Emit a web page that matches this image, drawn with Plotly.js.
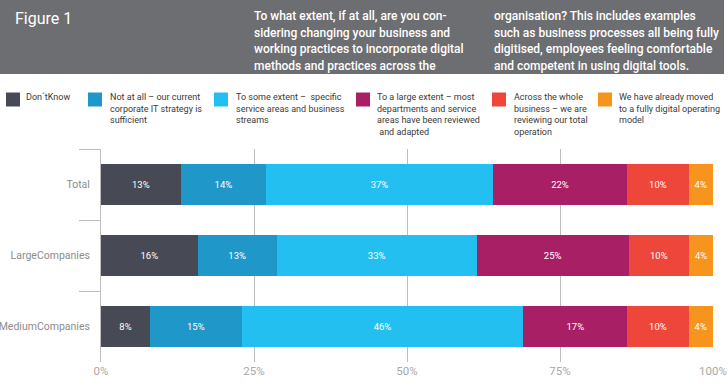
<!DOCTYPE html>
<html>
<head>
<meta charset="utf-8">
<script src="https://cdn.plot.ly/plotly-3.0.1.min.js"></script>
<style>html,body{margin:0;padding:0;background:#fff;}#chart{width:728px;height:387px;}</style>
</head>
<body>
<div id="chart"></div>
<script>
// ---- data ----
const categories = ["Total", "LargeCompanies", "MediumCompanies"];
const seriesNames = [
  "Don\u00b4tKnow",
  "Not at all \u2013 our current<br>corporate IT strategy is<br>sufficient",
  "To some extent \u2013  specific<br>service areas and business<br>streams",
  "To a large extent \u2013 most<br>departments and service<br>areas have been reviewed<br> and adapted",
  "Across the whole<br>business \u2013 we are<br>reviewing our total<br>operation",
  "We have already moved<br>to a fully digital operating<br>model"
];
const dontKnow      = [13, 15.8, 8];
const notAtAll      = [14, 12.9, 15];
const someExtent    = [37, 32.7, 46];
const largeExtent   = [22, 24.8, 17];
const wholeBusiness = [10, 9.9, 10];
const fullyDigital  = [4, 3.9, 4];
const xTickVals = [0, 25, 50, 75, 100];
const xTickText = ["0%", "25%", "50%", "75%", "100%"];
const figureLabel = "Figure 1";
const questionCol1 = [
  "To what extent, if at all, are you con-",
  "sidering changing your business and",
  "working practices to incorporate digital",
  "methods and practices across the"
];
const questionCol2 = [
  "organisation? This includes examples",
  "such as business processes all being fully",
  "digitised, employees feeling comfortable",
  "and competent in using digital tools."
];

// ---- styles ----
const colors = ["#474a55", "#2097c9", "#22bff0", "#a81f66", "#ee463b", "#f7941d"];
const FONT = "Roboto, 'Open Sans', sans-serif";
const values = [dontKnow, notAtAll, someExtent, largeExtent, wholeBusiness, fullyDigital];

const L = 101, R = 713, T = 149, B = 362;
const X = px => (px - L) / (R - L);
const Y = py => (B - py) / (B - T);

const traces = values.map((v, i) => ({
  type: "bar",
  orientation: "h",
  name: seriesNames[i],
  y: categories,
  x: v,
  width: 0.58,
  marker: {color: colors[i], line: {width: 0}},
  texttemplate: "%{x:.0f}%",
  textposition: "inside",
  insidetextanchor: "middle",
  textangle: 0,
  constraintext: "none",
  textfont: {family: FONT, size: 9.5, color: "#ffffff"},
  hoverinfo: "skip",
  showlegend: false
}));

const legendX = [6, 88, 214, 356, 492, 598];
const legendTextX = [24, 108, 234, 375, 512, 617];

const shapes = [
  {type: "rect", xref: "paper", yref: "paper", x0: X(0), x1: X(724), y0: Y(0), y1: Y(74),
   fillcolor: "#6d6e71", line: {width: 0}, layer: "below"}
];
const annotations = [
  {xref: "paper", yref: "paper", x: X(13), y: Y(18), xanchor: "left", yanchor: "middle",
   text: figureLabel, showarrow: false, font: {family: FONT, size: 16, color: "#ffffff"}}
];
questionCol1.forEach((t, j) => annotations.push({xref: "paper", yref: "paper", x: X(252), y: Y(16 + j * 16.5),
  xanchor: "left", yanchor: "middle", text: t, showarrow: false,
  font: {family: FONT, size: 12, weight: 500, color: "#ffffff"}}));
questionCol2.forEach((t, j) => annotations.push({xref: "paper", yref: "paper", x: X(492), y: Y(16 + j * 16.5),
  xanchor: "left", yanchor: "middle", text: t, showarrow: false,
  font: {family: FONT, size: 12, weight: 500, color: "#ffffff"}}));
seriesNames.forEach((n, i) => {
  shapes.push({type: "rect", xref: "paper", yref: "paper",
    x0: X(legendX[i]), x1: X(legendX[i] + 14), y0: Y(92.5), y1: Y(106.5),
    fillcolor: colors[i], line: {width: 0}});
  n.split("<br>").forEach((line, j) => annotations.push({xref: "paper", yref: "paper",
    x: X(legendTextX[i]), y: Y(97 + j * 11.5), xanchor: "left", yanchor: "middle",
    align: "left", text: line, showarrow: false, font: {family: FONT, size: 9, color: "#3a3a3a"}}));
});

const layout = {
  width: 728, height: 387,
  margin: {l: L, r: 728 - R, t: T, b: 387 - B, pad: 0},
  paper_bgcolor: "#ffffff", plot_bgcolor: "#ffffff",
  barmode: "stack",
  font: {family: FONT},
  xaxis: {
    range: [0, 100], tickvals: xTickVals, ticktext: xTickText,
    showgrid: true, gridcolor: "#bdbdbd", gridwidth: 1, zeroline: false, showline: false,
    ticks: "", ticklabeloverflow: "allow",
    tickfont: {family: FONT, size: 11.5, color: "#a8a8a8"}, fixedrange: true
  },
  yaxis: {
    type: "category", autorange: "reversed",
    showgrid: false, zeroline: false,
    showline: true, linecolor: "#bdbdbd", linewidth: 1,
    ticks: "outside", tickson: "boundaries", ticklen: 21, tickcolor: "#bdbdbd", tickwidth: 1,
    ticklabelstandoff: 8,
    tickfont: {family: FONT, size: 10.5, color: "#8c8c8c"}, fixedrange: true
  },
  shapes: shapes,
  annotations: annotations,
  showlegend: false
};

Plotly.newPlot("chart", traces, layout, {displayModeBar: false, staticPlot: true});
</script>
</body>
</html>
